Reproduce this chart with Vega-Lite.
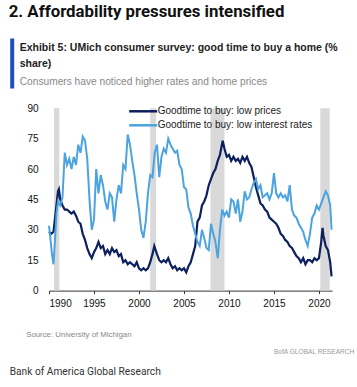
{
 "$schema": "https://vega.github.io/schema/vega-lite/v6.json",
 "padding": {"left": 8, "top": 4, "right": 5, "bottom": 0},
 "background": "white",
 "config": {"view": {"stroke": null}, "font": "Liberation Sans", "axis": {"labelOverlap": false}},
 "datasets": {
  "recessions": [{"s":1990.55,"e":1991.15},{"s":2001.25,"e":2001.9},{"s":2007.95,"e":2009.5},{"s":2020.15,"e":2021.2}],
  "prices": [{"t":1990.0,"v":29},{"t":1990.25,"v":28},{"t":1990.5,"v":29},{"t":1990.75,"v":39},{"t":1991.0,"v":49},{"t":1991.1,"v":50},{"t":1991.25,"v":45},{"t":1991.5,"v":42},{"t":1991.75,"v":40},{"t":1992.0,"v":40},{"t":1992.25,"v":39},{"t":1992.5,"v":38},{"t":1992.75,"v":39},{"t":1993.0,"v":37},{"t":1993.25,"v":34},{"t":1993.5,"v":33},{"t":1993.75,"v":28},{"t":1994.0,"v":25},{"t":1994.25,"v":21},{"t":1994.5,"v":18},{"t":1994.75,"v":16},{"t":1995.0,"v":19},{"t":1995.25,"v":21},{"t":1995.5,"v":24},{"t":1995.75,"v":21},{"t":1996.0,"v":22},{"t":1996.25,"v":18},{"t":1996.5,"v":20},{"t":1996.75,"v":18},{"t":1997.0,"v":21},{"t":1997.25,"v":19},{"t":1997.5,"v":20},{"t":1997.75,"v":17},{"t":1998.0,"v":18},{"t":1998.25,"v":14},{"t":1998.5,"v":15},{"t":1998.75,"v":13},{"t":1999.0,"v":14},{"t":1999.25,"v":13},{"t":1999.5,"v":12},{"t":1999.75,"v":14},{"t":2000.0,"v":11},{"t":2000.25,"v":10},{"t":2000.5,"v":11},{"t":2000.75,"v":10},{"t":2001.0,"v":11},{"t":2001.25,"v":14},{"t":2001.5,"v":18},{"t":2001.7,"v":22},{"t":2002.0,"v":18},{"t":2002.25,"v":15},{"t":2002.5,"v":14},{"t":2002.75,"v":15},{"t":2003.0,"v":14},{"t":2003.25,"v":16},{"t":2003.5,"v":13},{"t":2003.75,"v":11},{"t":2004.0,"v":12},{"t":2004.25,"v":10},{"t":2004.5,"v":11},{"t":2004.75,"v":10},{"t":2005.0,"v":11},{"t":2005.25,"v":9},{"t":2005.5,"v":12},{"t":2005.75,"v":14},{"t":2006.0,"v":18},{"t":2006.25,"v":22},{"t":2006.5,"v":34},{"t":2006.75,"v":36},{"t":2007.0,"v":42},{"t":2007.25,"v":44},{"t":2007.5,"v":47},{"t":2007.75,"v":52},{"t":2008.0,"v":55},{"t":2008.25,"v":58},{"t":2008.5,"v":60},{"t":2008.75,"v":64},{"t":2009.0,"v":67},{"t":2009.3,"v":74},{"t":2009.5,"v":70},{"t":2009.75,"v":66},{"t":2010.0,"v":67},{"t":2010.25,"v":64},{"t":2010.5,"v":66},{"t":2010.75,"v":64},{"t":2011.0,"v":65},{"t":2011.25,"v":63},{"t":2011.5,"v":66},{"t":2011.75,"v":64},{"t":2012.0,"v":66},{"t":2012.25,"v":63},{"t":2012.5,"v":61},{"t":2012.75,"v":56},{"t":2013.0,"v":51},{"t":2013.25,"v":47},{"t":2013.5,"v":43},{"t":2013.75,"v":42},{"t":2014.0,"v":40},{"t":2014.25,"v":39},{"t":2014.5,"v":36},{"t":2014.75,"v":35},{"t":2015.0,"v":34},{"t":2015.25,"v":33},{"t":2015.5,"v":31},{"t":2015.75,"v":28},{"t":2016.0,"v":27},{"t":2016.25,"v":25},{"t":2016.5,"v":24},{"t":2016.75,"v":22},{"t":2017.0,"v":21},{"t":2017.25,"v":19},{"t":2017.5,"v":17},{"t":2017.75,"v":16},{"t":2018.0,"v":14},{"t":2018.25,"v":16},{"t":2018.5,"v":13},{"t":2018.75,"v":15},{"t":2019.0,"v":15},{"t":2019.25,"v":14},{"t":2019.5,"v":16},{"t":2019.75,"v":15},{"t":2020.0,"v":16},{"t":2020.25,"v":24},{"t":2020.4,"v":31},{"t":2020.5,"v":27},{"t":2020.75,"v":22},{"t":2021.0,"v":20},{"t":2021.25,"v":14},{"t":2021.4,"v":7}],
  "rates": [{"t":1990.0,"v":32},{"t":1990.17,"v":25},{"t":1990.33,"v":18},{"t":1990.5,"v":13},{"t":1990.67,"v":25},{"t":1990.83,"v":38},{"t":1991.0,"v":44},{"t":1991.25,"v":42},{"t":1991.5,"v":46},{"t":1991.75,"v":68},{"t":1992.0,"v":62},{"t":1992.25,"v":65},{"t":1992.5,"v":60},{"t":1992.75,"v":66},{"t":1993.0,"v":62},{"t":1993.25,"v":72},{"t":1993.5,"v":68},{"t":1993.75,"v":76},{"t":1994.0,"v":74},{"t":1994.25,"v":65},{"t":1994.5,"v":45},{"t":1994.75,"v":30},{"t":1995.0,"v":35},{"t":1995.25,"v":60},{"t":1995.5,"v":48},{"t":1995.75,"v":57},{"t":1996.0,"v":52},{"t":1996.25,"v":44},{"t":1996.5,"v":40},{"t":1996.75,"v":48},{"t":1997.0,"v":46},{"t":1997.25,"v":34},{"t":1997.5,"v":45},{"t":1997.75,"v":52},{"t":1998.0,"v":48},{"t":1998.25,"v":62},{"t":1998.5,"v":60},{"t":1998.75,"v":77},{"t":1999.0,"v":72},{"t":1999.25,"v":64},{"t":1999.5,"v":57},{"t":1999.75,"v":48},{"t":2000.0,"v":40},{"t":2000.25,"v":30},{"t":2000.5,"v":26},{"t":2000.75,"v":34},{"t":2001.0,"v":48},{"t":2001.25,"v":57},{"t":2001.5,"v":56},{"t":2001.75,"v":68},{"t":2002.0,"v":72},{"t":2002.25,"v":56},{"t":2002.5,"v":66},{"t":2002.75,"v":70},{"t":2003.0,"v":68},{"t":2003.25,"v":75},{"t":2003.5,"v":72},{"t":2003.75,"v":70},{"t":2004.0,"v":68},{"t":2004.25,"v":69},{"t":2004.5,"v":62},{"t":2004.75,"v":60},{"t":2005.0,"v":51},{"t":2005.25,"v":50},{"t":2005.5,"v":41},{"t":2005.75,"v":38},{"t":2006.0,"v":32},{"t":2006.25,"v":28},{"t":2006.5,"v":24},{"t":2006.75,"v":22},{"t":2007.0,"v":30},{"t":2007.25,"v":26},{"t":2007.5,"v":21},{"t":2007.75,"v":20},{"t":2008.0,"v":33},{"t":2008.25,"v":28},{"t":2008.5,"v":24},{"t":2008.75,"v":16},{"t":2009.0,"v":30},{"t":2009.25,"v":40},{"t":2009.5,"v":37},{"t":2009.75,"v":39},{"t":2010.0,"v":36},{"t":2010.25,"v":45},{"t":2010.5,"v":44},{"t":2010.75,"v":38},{"t":2011.0,"v":45},{"t":2011.25,"v":34},{"t":2011.5,"v":39},{"t":2011.75,"v":49},{"t":2012.0,"v":45},{"t":2012.25,"v":46},{"t":2012.5,"v":50},{"t":2012.75,"v":53},{"t":2013.0,"v":55},{"t":2013.25,"v":50},{"t":2013.5,"v":52},{"t":2013.75,"v":46},{"t":2014.0,"v":47},{"t":2014.25,"v":48},{"t":2014.5,"v":45},{"t":2014.75,"v":48},{"t":2015.0,"v":58},{"t":2015.25,"v":48},{"t":2015.5,"v":46},{"t":2015.75,"v":48},{"t":2016.0,"v":46},{"t":2016.25,"v":47},{"t":2016.5,"v":44},{"t":2016.75,"v":52},{"t":2017.0,"v":40},{"t":2017.25,"v":37},{"t":2017.5,"v":36},{"t":2017.75,"v":33},{"t":2018.0,"v":31},{"t":2018.25,"v":29},{"t":2018.5,"v":25},{"t":2018.75,"v":22},{"t":2019.0,"v":28},{"t":2019.25,"v":36},{"t":2019.5,"v":38},{"t":2019.75,"v":42},{"t":2020.0,"v":40},{"t":2020.25,"v":43},{"t":2020.5,"v":46},{"t":2020.75,"v":49},{"t":2021.0,"v":47},{"t":2021.25,"v":42},{"t":2021.4,"v":30}]
 },
 "title": {"text": "2. Affordability pressures intensified", "anchor": "start", "fontSize": 16.8, "font": "Roboto", "fontWeight": "bold", "color": "#111111", "offset": 17.2, "dx": -1},
 "vconcat": [{
  "title": {"text": "Bank of America Global Research", "orient": "bottom", "anchor": "start", "fontSize": 10.2, "fontWeight": "normal", "font": "Roboto", "color": "#333333", "offset": 11, "dx": -2},
  "vconcat": [{
   "title": {"text": "BofA GLOBAL RESEARCH", "orient": "bottom", "anchor": "end", "fontSize": 6.6, "fontWeight": "normal", "font": "Liberation Sans", "color": "#999999", "offset": 11, "dx": 16.7},
   "spacing": 15.2,
   "resolve": {"scale": {"color": "independent"}, "legend": {"color": "independent"}},
   "vconcat": [
    {
     "width": 283, "height": 50,
     "title": {"text": ["Exhibit 5: UMich consumer survey: good time to buy a home (%", "share)"], "subtitle": "Consumers have noticed higher rates and home prices", "orient": "bottom", "anchor": "start", "frame": "group", "font": "Liberation Sans", "fontSize": 10.5, "fontWeight": "bold", "color": "#222222", "lineHeight": 16, "subtitleFont": "Liberation Sans", "subtitleFontSize": 10.2, "subtitleColor": "#888888", "subtitlePadding": 7, "offset": -45, "dx": -29.3},
     "data": {"values": [{"a": 0.5}]},
     "mark": {"type": "point", "opacity": 0, "size": 0},
     "encoding": {
      "y": {"field": "a", "type": "quantitative", "title": null, "scale": {"domain": [0, 1]},
        "axis": {"domain": true, "domainColor": "#1d4fbf", "domainWidth": 4, "domainCap": "butt", "ticks": false, "labels": false, "grid": false, "offset": 37.3}}
     }
    },
    {
     "width": 283, "height": 182.4,
     "layer": [
      {"data": {"name": "recessions"}, "mark": {"type": "rect", "color": "#d9d9d9"},
       "encoding": {
        "x": {"field": "s", "type": "quantitative", "title": "Source: University of Michigan",
          "scale": {"domain": [1990, 2021.45], "nice": false, "zero": false},
          "axis": {"values": [1990, 1995, 2000, 2005, 2010, 2015, 2020], "format": "d", "grid": false, "domainColor": "#333333", "tickColor": "#333333", "tickSize": 3, "labelFont": "Liberation Sans", "labelFontSize": 10, "labelColor": "#111111", "labelPadding": 5, "labelOverlap": false, "titleFont": "Liberation Sans", "titleFontSize": 7.8, "titleColor": "#888888", "titleFontWeight": "normal", "titleX": -23.3, "titleY": 44, "titleAlign": "left", "titleBaseline": "middle"}},
        "x2": {"field": "e"}
       }},
      {"data": {"name": "prices"}, "mark": {"type": "line", "strokeWidth": 2.2},
       "encoding": {
        "x": {"field": "t", "type": "quantitative", "title": "Source: University of Michigan"},
        "y": {"field": "v", "type": "quantitative", "title": null, "scale": {"domain": [0, 90], "nice": false},
          "axis": {"values": [0, 15, 30, 45, 60, 75, 90], "domain": false, "ticks": false, "grid": false, "labelPadding": 11, "labelOverlap": false, "labelFont": "Liberation Sans", "labelFontSize": 10, "labelColor": "#111111"}},
        "color": {"datum": "Goodtime to buy: low prices", "type": "nominal",
          "scale": {"domain": ["Goodtime to buy: low prices", "Goodtime to buy: low interest rates"], "range": ["#0c1f5e", "#4ba3e0"]},
          "legend": {"orient": "none", "legendX": 88.7, "legendY": -2.4, "title": null, "symbolType": "M-3.5,0H3.5", "symbolSize": 64, "symbolStrokeWidth": 2.5, "symbolFillColor": "transparent", "labelFont": "Liberation Sans", "labelFontSize": 10, "labelColor": "#222222", "labelOffset": 9, "rowPadding": 3, "padding": 0}}
       }},
      {"data": {"name": "rates"}, "mark": {"type": "line", "strokeWidth": 2},
       "encoding": {
        "x": {"field": "t", "type": "quantitative", "title": "Source: University of Michigan"},
        "y": {"field": "v", "type": "quantitative", "title": null,
          "axis": {"values": [0, 15, 30, 45, 60, 75, 90], "domain": false, "ticks": false, "grid": false, "labelPadding": 11, "labelOverlap": false, "labelFont": "Liberation Sans", "labelFontSize": 10, "labelColor": "#111111"}},
        "color": {"datum": "Goodtime to buy: low interest rates", "type": "nominal"}
       }}
     ]
    }
   ]
  }]
 }]
}
